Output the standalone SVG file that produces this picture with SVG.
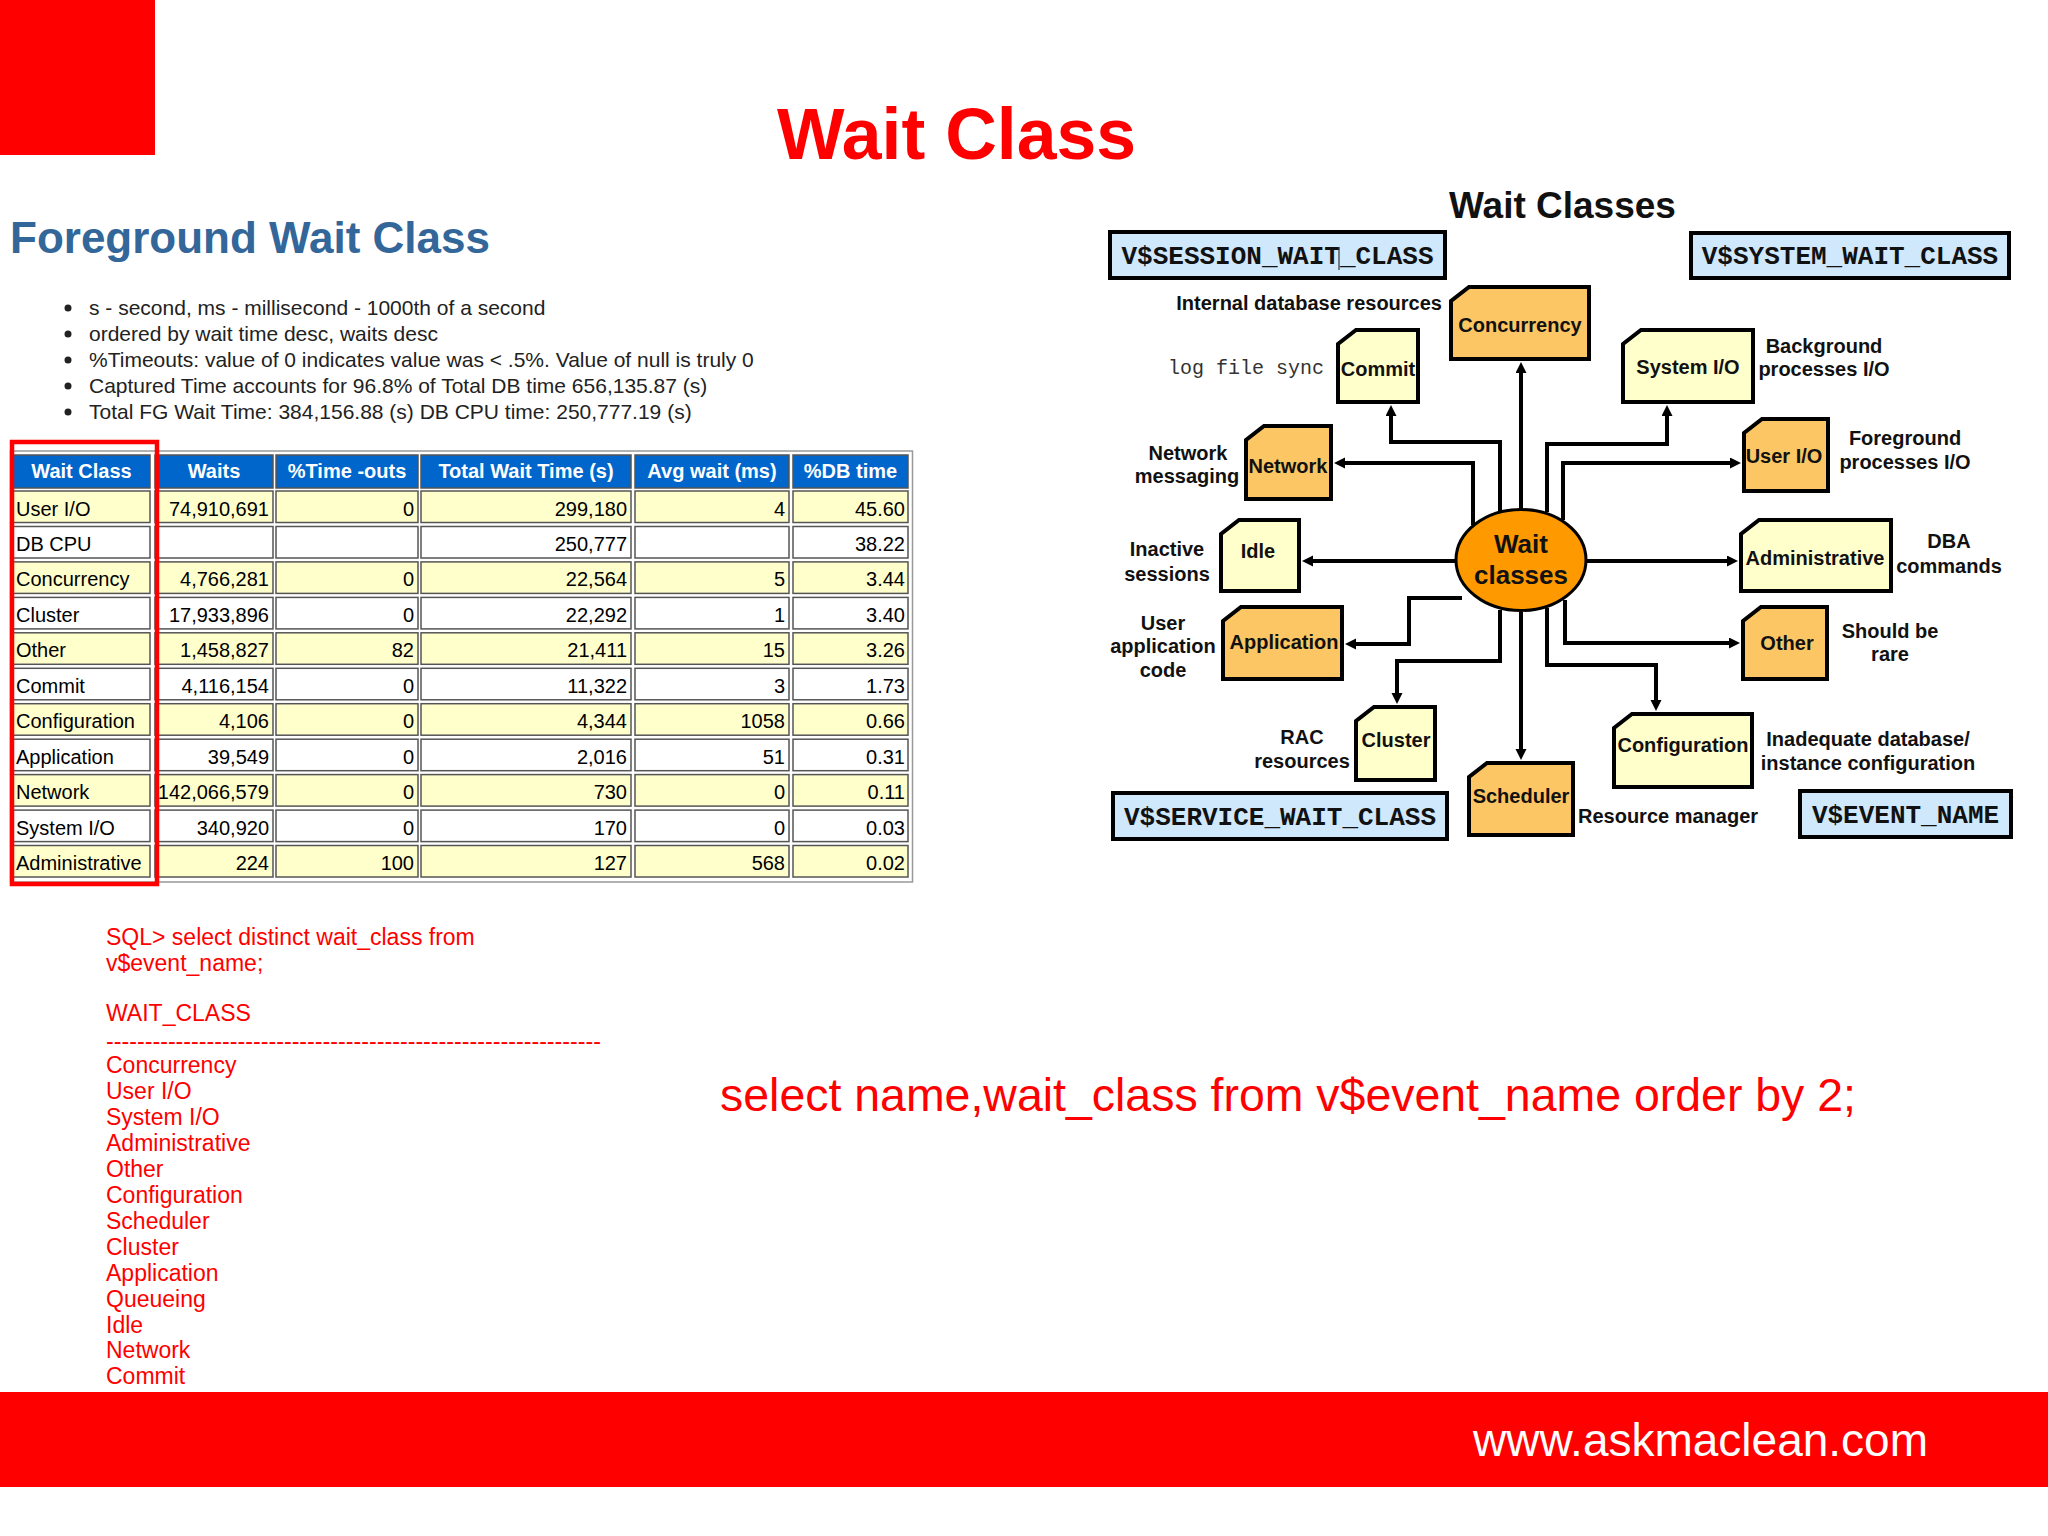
<svg xmlns="http://www.w3.org/2000/svg" width="2048" height="1536" viewBox="0 0 2048 1536">
<defs>
<style>
.sans{font-family:"Liberation Sans",Arial,sans-serif}
.bul{font-family:"Liberation Sans",Arial,sans-serif;font-size:21px;fill:#222}
.th{font-family:"Liberation Sans",Arial,sans-serif;font-size:20px;font-weight:bold;fill:#fff;text-anchor:middle}
.td{font-family:"Liberation Sans",Arial,sans-serif;font-size:20px;fill:#000}
.r{text-anchor:end}
.hc{fill:#0066cc;stroke:#555;stroke-width:1.5}
.cy{fill:#ffffcc;stroke:#555;stroke-width:1.5}
.cw{fill:#fff;stroke:#555;stroke-width:1.5}
.sql{font-family:"Liberation Sans",Arial,sans-serif;font-size:23px;fill:#ff0000}
.nd{stroke:#000;stroke-width:4;stroke-linejoin:miter}
.o{fill:#fcc664}
.y{fill:#ffffcc}
.nt{font-family:"Liberation Sans",Arial,sans-serif;font-size:20px;font-weight:bold;fill:#111;text-anchor:middle}
.ct{font-family:"Liberation Sans",Arial,sans-serif;font-size:26px;font-weight:bold;fill:#111;text-anchor:middle}
.lb{font-family:"Liberation Sans",Arial,sans-serif;font-size:20px;font-weight:bold;fill:#111;text-anchor:middle}
.vb{fill:#cfe8fc;stroke:#000;stroke-width:4}
.vt{font-family:"Liberation Mono","Courier New",monospace;font-size:26px;font-weight:bold;fill:#111;text-anchor:middle}
.cn{fill:none;stroke:#000;stroke-width:4;marker-end:url(#ah)}
</style>
<marker id="ah" markerUnits="userSpaceOnUse" markerWidth="12" markerHeight="12" refX="3" refY="5.5" orient="auto"><path d="M0,0 L11,5.5 L0,11 z" fill="#000"/></marker>
</defs>
<rect width="2048" height="1536" fill="#fff"/>
<rect x="0" y="0" width="155" height="155" fill="#ff0000"/>
<text class="sans" x="777" y="159" font-size="72" font-weight="bold" fill="#ff0000" textLength="359" lengthAdjust="spacingAndGlyphs">Wait Class</text>
<text class="sans" x="10" y="253" font-size="44" font-weight="bold" fill="#336699">Foreground Wait Class</text>
<g id="bullets">
<circle cx="68" cy="308" r="3.5" fill="#222"/><text class="bul" x="89" y="315">s - second, ms - millisecond - 1000th of a second</text>
<circle cx="68" cy="334" r="3.5" fill="#222"/><text class="bul" x="89" y="341">ordered by wait time desc, waits desc</text>
<circle cx="68" cy="360" r="3.5" fill="#222"/><text class="bul" x="89" y="367">%Timeouts: value of 0 indicates value was &lt; .5%. Value of null is truly 0</text>
<circle cx="68" cy="386" r="3.5" fill="#222"/><text class="bul" x="89" y="393">Captured Time accounts for 96.8% of Total DB time 656,135.87 (s)</text>
<circle cx="68" cy="412" r="3.5" fill="#222"/><text class="bul" x="89" y="419">Total FG Wait Time: 384,156.88 (s) DB CPU time: 250,777.19 (s)</text>
</g>
<g id="table">
<rect x="10.5" y="451" width="902" height="431" fill="#fff" stroke="#999" stroke-width="1.5"/>
<rect class="hc" x="13" y="455" width="137" height="33"/><rect class="hc" x="155" y="455" width="118" height="33"/><rect class="hc" x="276" y="455" width="142" height="33"/><rect class="hc" x="421" y="455" width="210" height="33"/><rect class="hc" x="635" y="455" width="154" height="33"/><rect class="hc" x="793" y="455" width="115" height="33"/>
<text class="th" x="81.5" y="478">Wait Class</text><text class="th" x="214" y="478">Waits</text><text class="th" x="347" y="478">%Time -outs</text><text class="th" x="526" y="478">Total Wait Time (s)</text><text class="th" x="712" y="478">Avg wait (ms)</text><text class="th" x="850.5" y="478">%DB time</text>
<g id="r0"><rect class="cy" x="13" y="491" width="137" height="31.5"/><rect class="cy" x="155" y="491" width="118" height="31.5"/><rect class="cy" x="276" y="491" width="142" height="31.5"/><rect class="cy" x="421" y="491" width="210" height="31.5"/><rect class="cy" x="635" y="491" width="154" height="31.5"/><rect class="cy" x="793" y="491" width="115" height="31.5"/>
<text class="td" x="16" y="515.5">User I/O</text><text class="td r" x="269" y="515.5">74,910,691</text><text class="td r" x="414" y="515.5">0</text><text class="td r" x="627" y="515.5">299,180</text><text class="td r" x="785" y="515.5">4</text><text class="td r" x="905" y="515.5">45.60</text></g>
<g id="r1"><rect class="cw" x="13" y="526.5" width="137" height="31.5"/><rect class="cw" x="155" y="526.5" width="118" height="31.5"/><rect class="cw" x="276" y="526.5" width="142" height="31.5"/><rect class="cw" x="421" y="526.5" width="210" height="31.5"/><rect class="cw" x="635" y="526.5" width="154" height="31.5"/><rect class="cw" x="793" y="526.5" width="115" height="31.5"/>
<text class="td" x="16" y="551">DB CPU</text><text class="td r" x="627" y="551">250,777</text><text class="td r" x="905" y="551">38.22</text></g>
<g id="r2"><rect class="cy" x="13" y="561.9" width="137" height="31.5"/><rect class="cy" x="155" y="561.9" width="118" height="31.5"/><rect class="cy" x="276" y="561.9" width="142" height="31.5"/><rect class="cy" x="421" y="561.9" width="210" height="31.5"/><rect class="cy" x="635" y="561.9" width="154" height="31.5"/><rect class="cy" x="793" y="561.9" width="115" height="31.5"/>
<text class="td" x="16" y="586.4">Concurrency</text><text class="td r" x="269" y="586.4">4,766,281</text><text class="td r" x="414" y="586.4">0</text><text class="td r" x="627" y="586.4">22,564</text><text class="td r" x="785" y="586.4">5</text><text class="td r" x="905" y="586.4">3.44</text></g>
<g id="r3"><rect class="cw" x="13" y="597.4" width="137" height="31.5"/><rect class="cw" x="155" y="597.4" width="118" height="31.5"/><rect class="cw" x="276" y="597.4" width="142" height="31.5"/><rect class="cw" x="421" y="597.4" width="210" height="31.5"/><rect class="cw" x="635" y="597.4" width="154" height="31.5"/><rect class="cw" x="793" y="597.4" width="115" height="31.5"/>
<text class="td" x="16" y="621.9">Cluster</text><text class="td r" x="269" y="621.9">17,933,896</text><text class="td r" x="414" y="621.9">0</text><text class="td r" x="627" y="621.9">22,292</text><text class="td r" x="785" y="621.9">1</text><text class="td r" x="905" y="621.9">3.40</text></g>
<g id="r4"><rect class="cy" x="13" y="632.8" width="137" height="31.5"/><rect class="cy" x="155" y="632.8" width="118" height="31.5"/><rect class="cy" x="276" y="632.8" width="142" height="31.5"/><rect class="cy" x="421" y="632.8" width="210" height="31.5"/><rect class="cy" x="635" y="632.8" width="154" height="31.5"/><rect class="cy" x="793" y="632.8" width="115" height="31.5"/>
<text class="td" x="16" y="657.3">Other</text><text class="td r" x="269" y="657.3">1,458,827</text><text class="td r" x="414" y="657.3">82</text><text class="td r" x="627" y="657.3">21,411</text><text class="td r" x="785" y="657.3">15</text><text class="td r" x="905" y="657.3">3.26</text></g>
<g id="r5"><rect class="cw" x="13" y="668.3" width="137" height="31.5"/><rect class="cw" x="155" y="668.3" width="118" height="31.5"/><rect class="cw" x="276" y="668.3" width="142" height="31.5"/><rect class="cw" x="421" y="668.3" width="210" height="31.5"/><rect class="cw" x="635" y="668.3" width="154" height="31.5"/><rect class="cw" x="793" y="668.3" width="115" height="31.5"/>
<text class="td" x="16" y="692.8">Commit</text><text class="td r" x="269" y="692.8">4,116,154</text><text class="td r" x="414" y="692.8">0</text><text class="td r" x="627" y="692.8">11,322</text><text class="td r" x="785" y="692.8">3</text><text class="td r" x="905" y="692.8">1.73</text></g>
<g id="r6"><rect class="cy" x="13" y="703.7" width="137" height="31.5"/><rect class="cy" x="155" y="703.7" width="118" height="31.5"/><rect class="cy" x="276" y="703.7" width="142" height="31.5"/><rect class="cy" x="421" y="703.7" width="210" height="31.5"/><rect class="cy" x="635" y="703.7" width="154" height="31.5"/><rect class="cy" x="793" y="703.7" width="115" height="31.5"/>
<text class="td" x="16" y="728.2">Configuration</text><text class="td r" x="269" y="728.2">4,106</text><text class="td r" x="414" y="728.2">0</text><text class="td r" x="627" y="728.2">4,344</text><text class="td r" x="785" y="728.2">1058</text><text class="td r" x="905" y="728.2">0.66</text></g>
<g id="r7"><rect class="cw" x="13" y="739.2" width="137" height="31.5"/><rect class="cw" x="155" y="739.2" width="118" height="31.5"/><rect class="cw" x="276" y="739.2" width="142" height="31.5"/><rect class="cw" x="421" y="739.2" width="210" height="31.5"/><rect class="cw" x="635" y="739.2" width="154" height="31.5"/><rect class="cw" x="793" y="739.2" width="115" height="31.5"/>
<text class="td" x="16" y="763.7">Application</text><text class="td r" x="269" y="763.7">39,549</text><text class="td r" x="414" y="763.7">0</text><text class="td r" x="627" y="763.7">2,016</text><text class="td r" x="785" y="763.7">51</text><text class="td r" x="905" y="763.7">0.31</text></g>
<g id="r8"><rect class="cy" x="13" y="774.6" width="137" height="31.5"/><rect class="cy" x="155" y="774.6" width="118" height="31.5"/><rect class="cy" x="276" y="774.6" width="142" height="31.5"/><rect class="cy" x="421" y="774.6" width="210" height="31.5"/><rect class="cy" x="635" y="774.6" width="154" height="31.5"/><rect class="cy" x="793" y="774.6" width="115" height="31.5"/>
<text class="td" x="16" y="799.1">Network</text><text class="td r" x="269" y="799.1">142,066,579</text><text class="td r" x="414" y="799.1">0</text><text class="td r" x="627" y="799.1">730</text><text class="td r" x="785" y="799.1">0</text><text class="td r" x="905" y="799.1">0.11</text></g>
<g id="r9"><rect class="cw" x="13" y="810.1" width="137" height="31.5"/><rect class="cw" x="155" y="810.1" width="118" height="31.5"/><rect class="cw" x="276" y="810.1" width="142" height="31.5"/><rect class="cw" x="421" y="810.1" width="210" height="31.5"/><rect class="cw" x="635" y="810.1" width="154" height="31.5"/><rect class="cw" x="793" y="810.1" width="115" height="31.5"/>
<text class="td" x="16" y="834.6">System I/O</text><text class="td r" x="269" y="834.6">340,920</text><text class="td r" x="414" y="834.6">0</text><text class="td r" x="627" y="834.6">170</text><text class="td r" x="785" y="834.6">0</text><text class="td r" x="905" y="834.6">0.03</text></g>
<g id="r10"><rect class="cy" x="13" y="845.5" width="137" height="31.5"/><rect class="cy" x="155" y="845.5" width="118" height="31.5"/><rect class="cy" x="276" y="845.5" width="142" height="31.5"/><rect class="cy" x="421" y="845.5" width="210" height="31.5"/><rect class="cy" x="635" y="845.5" width="154" height="31.5"/><rect class="cy" x="793" y="845.5" width="115" height="31.5"/>
<text class="td" x="16" y="870">Administrative</text><text class="td r" x="269" y="870">224</text><text class="td r" x="414" y="870">100</text><text class="td r" x="627" y="870">127</text><text class="td r" x="785" y="870">568</text><text class="td r" x="905" y="870">0.02</text></g>
<rect x="12" y="442" width="145" height="442" fill="none" stroke="#ff0000" stroke-width="4.5"/>
</g>
<g id="sql">
<text class="sql" x="106" y="945">SQL&gt; select distinct wait_class from</text>
<text class="sql" x="106" y="971">v$event_name;</text>
<text class="sql" x="106" y="1021">WAIT_CLASS</text>
<text class="sql" x="106" y="1049" textLength="495" lengthAdjust="spacingAndGlyphs">----------------------------------------------------------------</text>
<text class="sql" x="106" y="1073">Concurrency</text>
<text class="sql" x="106" y="1099">User I/O</text>
<text class="sql" x="106" y="1125">System I/O</text>
<text class="sql" x="106" y="1151">Administrative</text>
<text class="sql" x="106" y="1177">Other</text>
<text class="sql" x="106" y="1203">Configuration</text>
<text class="sql" x="106" y="1229">Scheduler</text>
<text class="sql" x="106" y="1255">Cluster</text>
<text class="sql" x="106" y="1281">Application</text>
<text class="sql" x="106" y="1307">Queueing</text>
<text class="sql" x="106" y="1333">Idle</text>
<text class="sql" x="106" y="1358">Network</text>
<text class="sql" x="106" y="1384">Commit</text>
</g>
<text class="sans" x="720" y="1111" font-size="46" fill="#ff0000" textLength="1136" lengthAdjust="spacingAndGlyphs">select name,wait_class from v$event_name order by 2;</text>
<rect x="0" y="1392" width="2048" height="95" fill="#ff0000"/>
<text class="sans" x="1473" y="1456" font-size="46" fill="#fff" textLength="455" lengthAdjust="spacingAndGlyphs">www.askmaclean.com</text>

<text class="sans" x="1449" y="218" font-size="37" font-weight="bold" fill="#111">Wait Classes</text>
<g id="views">
<g id="v-session"><rect class="vb" x="1110" y="232" width="335" height="46"/><text class="vt" x="1277.5" y="264">V$SESSION_WAIT_CLASS</text><line x1="1339" y1="247" x2="1339" y2="270" stroke="#333" stroke-width="1.2"/></g>
<g id="v-system"><rect class="vb" x="1691" y="233" width="318" height="45"/><text class="vt" x="1850" y="264">V$SYSTEM_WAIT_CLASS</text></g>
<g id="v-service"><rect class="vb" x="1113" y="793" width="334" height="46"/><text class="vt" x="1280" y="825">V$SERVICE_WAIT_CLASS</text></g>
<g id="v-event"><rect class="vb" x="1800" y="791" width="211" height="46"/><text class="vt" x="1905.5" y="823">V$EVENT_NAME</text></g>
</g>
<g id="connectors">
<path class="cn" d="M1521,512 V370"/>
<path class="cn" d="M1500,515 V442 H1391 V413"/>
<path class="cn" d="M1473,525 V463 H1342"/>
<path class="cn" d="M1547,512 V444 H1667 V413"/>
<path class="cn" d="M1563,520 V463 H1733"/>
<path class="cn" d="M1456,561 H1310"/>
<path class="cn" d="M1586,561 H1730"/>
<path class="cn" d="M1462,598 H1409 V644 H1353"/>
<path class="cn" d="M1500,610 V661 H1397 V696"/>
<path class="cn" d="M1521,612 V752"/>
<path class="cn" d="M1547,608 V665 H1656 V703"/>
<path class="cn" d="M1565,600 V643 H1732"/>
</g>
<g id="center"><ellipse cx="1521" cy="560" rx="65" ry="50.5" fill="#ff9900" stroke="#000" stroke-width="3"/><text class="ct" x="1521" y="553">Wait</text><text class="ct" x="1521" y="584">classes</text></g>
<g id="n-concurrency"><path class="nd o" d="M1469,287 H1589 V359 H1451 V301 Z"/><text class="nt" x="1520" y="332">Concurrency</text></g>
<g id="n-commit"><path class="nd y" d="M1356,330 H1418 V402 H1338 V344 Z"/><text class="nt" x="1378" y="376">Commit</text></g>
<g id="n-systemio"><path class="nd y" d="M1641,330 H1753 V402 H1623 V344 Z"/><text class="nt" x="1688" y="374">System I/O</text></g>
<g id="n-network"><path class="nd o" d="M1264,426 H1331 V499 H1246 V440 Z"/><text class="nt" x="1288" y="473">Network</text></g>
<g id="n-userio"><path class="nd o" d="M1762,419 H1828 V491 H1744 V433 Z"/><text class="nt" x="1784" y="463">User I/O</text></g>
<g id="n-idle"><path class="nd y" d="M1239,520 H1299 V591 H1221 V534 Z"/><text class="nt" x="1258" y="558">Idle</text></g>
<g id="n-admin"><path class="nd y" d="M1759,520 H1891 V591 H1741 V534 Z"/><text class="nt" x="1815" y="565">Administrative</text></g>
<g id="n-application"><path class="nd o" d="M1241,607 H1342 V679 H1223 V621 Z"/><text class="nt" x="1284" y="649">Application</text></g>
<g id="n-other"><path class="nd o" d="M1761,607 H1827 V679 H1743 V621 Z"/><text class="nt" x="1787" y="650">Other</text></g>
<g id="n-cluster"><path class="nd y" d="M1374,707 H1435 V780 H1356 V721 Z"/><text class="nt" x="1396" y="747">Cluster</text></g>
<g id="n-scheduler"><path class="nd o" d="M1487,763 H1573 V835 H1469 V777 Z"/><text class="nt" x="1521" y="803">Scheduler</text></g>
<g id="n-configuration"><path class="nd y" d="M1632,714 H1752 V787 H1614 V728 Z"/><text class="nt" x="1683" y="752">Configuration</text></g>
<g id="labels">
<text class="lb" x="1442" y="310" style="text-anchor:end">Internal database resources</text>
<text x="1168" y="374" font-family="Liberation Mono,Courier New,monospace" font-size="20" fill="#333">log file sync</text>
<text class="lb" x="1824" y="353">Background</text><text class="lb" x="1824" y="376">processes I/O</text>
<text class="lb" x="1905" y="445">Foreground</text><text class="lb" x="1905" y="469">processes I/O</text>
<text class="lb" x="1188" y="460">Network</text><text class="lb" x="1187" y="483">messaging</text>
<text class="lb" x="1167" y="556">Inactive</text><text class="lb" x="1167" y="581">sessions</text>
<text class="lb" x="1949" y="548">DBA</text><text class="lb" x="1949" y="573">commands</text>
<text class="lb" x="1163" y="630">User</text><text class="lb" x="1163" y="653">application</text><text class="lb" x="1163" y="677">code</text>
<text class="lb" x="1890" y="638">Should be</text><text class="lb" x="1890" y="661">rare</text>
<text class="lb" x="1302" y="744">RAC</text><text class="lb" x="1302" y="768">resources</text>
<text class="lb" x="1868" y="746">Inadequate database/</text><text class="lb" x="1868" y="770">instance configuration</text>
<text class="lb" x="1578" y="823" style="text-anchor:start">Resource manager</text>
</g>
</svg>
